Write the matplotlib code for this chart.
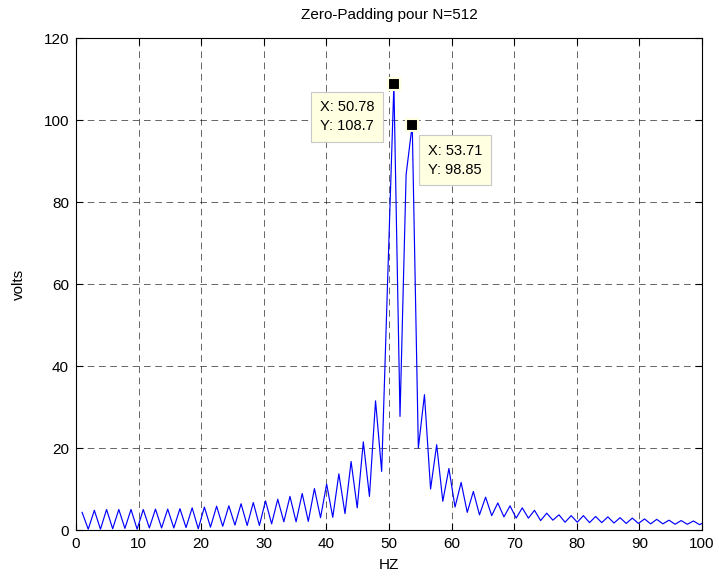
import numpy as np
import matplotlib
matplotlib.use("Agg")
import matplotlib.pyplot as plt

plt.rcParams['font.family'] = ['Liberation Sans', 'DejaVu Sans']

# frequency resolution fs/N = 500/512 Hz ; bins k = 1..103
df = 500.0 / 512
bins = list(range(1, 104))
# magnitude values (volts), one per bin
volts = [
    4.3, 0.2, 4.8, 0.2, 5.0, 0.3, 5.0, 0.4, 5.0, 0.2,      # k 1-10
    5.0, 0.5, 5.1, 0.5, 5.1, 0.5, 5.2, 0.6, 5.4, 0.3,      # k 11-20
    5.6, 0.7, 5.8, 0.9, 5.9, 1.2, 6.4, 1.1, 6.7, 1.1,      # k 21-30
    7.1, 1.5, 7.5, 2.0, 8.2, 2.0, 8.9, 2.1, 10.1, 3.0,     # k 31-40
    11.2, 3.1, 13.7, 4.0, 16.7, 5.4, 21.5, 8.2, 31.5, 14.3,  # k 41-50
    62.0, 108.7, 27.7, 86.7, 98.85, 20.0, 33.0, 10.0, 20.8, 7.0,  # k 51-60
    15.0, 5.6, 11.6, 4.3, 9.4, 3.7, 8.0, 3.5, 6.6, 3.2,    # k 61-70
    5.9, 2.9, 5.4, 2.9, 4.8, 2.3, 4.1, 2.4, 3.7, 1.9,      # k 71-80
    3.5, 1.9, 3.5, 1.8, 3.3, 1.8, 3.2, 1.7, 3.0, 1.6,      # k 81-90
    2.9, 1.6, 2.7, 1.5, 2.6, 1.5, 2.4, 1.4, 2.3, 1.4,      # k 91-100
    2.2, 1.3, 2.1,                                         # k 101-103
]
freqs = [k * df for k in bins]

# data tips
tip_x = [50.78, 53.71]
tip_y = [108.7, 98.85]
tip_labels = ["X: 50.78\nY: 108.7", "X: 53.71\nY: 98.85"]

fig = plt.figure(figsize=(7.19, 5.83), dpi=100)
ax = fig.add_axes([76/719, 1-530/583, (702-76)/719, (530-38)/583])

ax.plot(freqs, volts, color=(0, 0, 1), lw=0.85, zorder=3)

ax.set_xlim(0, 100)
ax.set_ylim(0, 120)
ax.set_xticks(np.arange(0, 101, 10))
ax.set_yticks(np.arange(0, 121, 20))
ax.tick_params(direction='in', top=True, right=True, labelsize=11, length=5, pad=5)
ax.grid(True, color='black', linestyle=(0, (8, 5.5)), linewidth=0.6, alpha=0.7)
for s in ax.spines.values():
    s.set_linewidth(0.8)

ax.set_title("Zero-Padding pour N=512", fontsize=11, pad=14)
ax.set_xlabel("HZ", fontsize=11, labelpad=5)
ax.set_ylabel("volts", fontsize=11, labelpad=13)

# markers
ax.plot(tip_x, tip_y, linestyle='none', marker='s', markersize=9,
        markerfacecolor='black', markeredgecolor='#FFFFE1', markeredgewidth=1.5, zorder=5)

offsets = [(-74, -16), (16, -19)]
for x, y, lab, off in zip(tip_x, tip_y, tip_labels, offsets):
    ax.annotate(lab, xy=(x, y), xytext=off, textcoords='offset pixels',
                ha='left', va='top', fontsize=10.5, linespacing=1.45,
                bbox=dict(boxstyle='square,pad=0.6', facecolor='#FFFFE1',
                          edgecolor='#C8C8C8', linewidth=0.8), zorder=6)

fig.savefig("out.png", dpi=100)
